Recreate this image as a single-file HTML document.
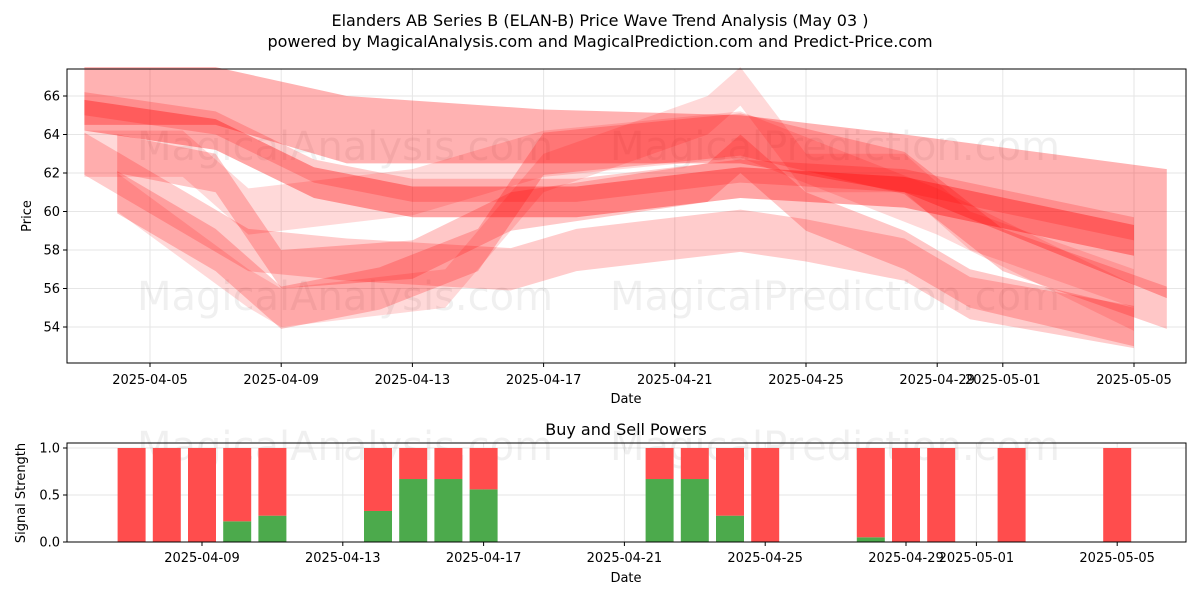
<!DOCTYPE html>
<html><head><meta charset="utf-8"><style>
body{margin:0;background:#fff;font-family:"Liberation Sans","DejaVu Sans",sans-serif}
svg text{font-family:"DejaVu Sans","Liberation Sans",sans-serif}
</style></head><body>
<svg id="chart" width="1200" height="600" xmlns="http://www.w3.org/2000/svg">
<rect width="1200" height="600" fill="#fff"/>
<text x="600" y="26" text-anchor="middle" font-size="16">Elanders AB Series B (ELAN-B) Price Wave Trend Analysis (May 03 )</text>
<text x="600" y="47" text-anchor="middle" font-size="16">powered by MagicalAnalysis.com and MagicalPrediction.com and Predict-Price.com</text>
<g id="gtop"></g><g id="gbot"></g>
</svg>
<script>
const NS="http://www.w3.org/2000/svg";
const yTicks=[54,56,58,60,62,64,66];
const xTickLabels=["2025-04-05","2025-04-09","2025-04-13","2025-04-17","2025-04-21","2025-04-25","2025-04-29","2025-05-01","2025-05-05"];
const bandA_dates=["2025-04-03","2025-04-07","2025-04-11","2025-04-17","2025-04-23","2025-04-28","2025-05-06"];
const bandA_hi=[67.5,67.5,66,65.3,65,64,62.2];
const bandA_lo=[64.5,64.5,62.5,62.5,62.5,61,55.5];
const bandB_dates=["2025-04-03","2025-04-07","2025-04-10","2025-04-13","2025-04-18","2025-04-23","2025-04-28","2025-05-05"];
const bandB_mid=[65,64,61.5,60.5,60.5,61.5,61,58.5];
const bandC_dates=["2025-04-03","2025-04-08","2025-04-11","2025-04-16","2025-04-18","2025-04-23","2025-04-25","2025-04-28","2025-04-30","2025-05-05"];
const bandC_mid=[63,58,57.5,57,58,59,58.5,57.5,55.5,54];
const bandD_dates=["2025-04-04","2025-04-07","2025-04-09","2025-04-12","2025-04-15","2025-04-17","2025-04-23","2025-04-28","2025-05-01","2025-05-06"];
const bandD_mid=[61,58,55,56,58,63,64,62,58,55];
const bandE_dates=["2025-04-04","2025-04-07","2025-04-09","2025-04-13","2025-04-16","2025-04-22","2025-04-23","2025-04-25","2025-04-28","2025-04-30","2025-05-05"];
const bandE_mid=[63,62,57,57.5,60,61.5,63,60,58,56,54];
const bandF_dates=["2025-04-04","2025-04-08","2025-04-09","2025-04-14","2025-04-17","2025-04-22","2025-04-23","2025-04-25","2025-04-28","2025-04-30","2025-05-05"];
const bandF_mid=[61,56,55,56,62,65,66.5,62,62,59,56];
const bandG_dates=["2025-04-03","2025-04-06","2025-04-08","2025-04-13","2025-04-17","2025-04-23","2025-04-29","2025-05-05"];
const bandG_mid=[63,63,60,61,63,64,60,55];
const barDates=["2025-04-07","2025-04-08","2025-04-09","2025-04-10","2025-04-11","2025-04-14","2025-04-15","2025-04-16","2025-04-17","2025-04-22","2025-04-23","2025-04-24","2025-04-25","2025-04-28","2025-04-29","2025-04-30","2025-05-02","2025-05-05"];
const buyPower=[0,0,0,0.22,0.28,0.33,0.67,0.67,0.56,0.67,0.67,0.28,0,0.05,0,0,0,0];
const sellPower=buyPower.map(v=>1-v);
const botTicks=[0,0.5,1.0];

const day=s=>Date.UTC(+s.slice(0,4),+s.slice(5,7)-1,+s.slice(8,10))/864e5;
const d0=day("2025-04-05");
const X=s=>150+(day(s)-d0)*32.8;
const Y=v=>327-(v-54)*19.25;
const d1=day("2025-04-09");
const X2=s=>202+(day(s)-d1)*35.2;
const Y2=v=>542-v*94;
function mk(tag,attrs,parent,txt){const e=document.createElementNS(NS,tag);for(const k in attrs)e.setAttribute(k,attrs[k]);if(txt!=null)e.textContent=txt;parent.appendChild(e);return e;}
const gTop=document.getElementById('gtop'),gBot=document.getElementById('gbot');
yTicks.forEach(v=>{mk('line',{x1:67,x2:1186,y1:Y(v),y2:Y(v),stroke:'#e6e6e6'},gTop);
 const t=mk('text',{x:60,y:Y(v)+4.5,'text-anchor':'end','font-size':13},gTop,v);
 
 
 mk('line',{x1:63,x2:67,y1:Y(v),y2:Y(v),stroke:'#000'},gTop);});
xTickLabels.forEach(s=>{mk('line',{x1:X(s),x2:X(s),y1:69,y2:363,stroke:'#e6e6e6'},gTop);
 mk('line',{x1:X(s),x2:X(s),y1:363,y2:367,stroke:'#000'},gTop);
 const t=mk('text',{x:X(s),y:384,'text-anchor':'middle','font-size':13},gTop,s);
 
 });
[[345,160],[835,160],[345,310],[835,310]].forEach((p,i)=>{const t=mk('text',{x:p[0],y:p[1],'text-anchor':'middle','font-size':40,fill:'#000','fill-opacity':0.06},gTop,i%2?'MagicalPrediction.com':'MagicalAnalysis.com');
 
 });
function band(dates,lo,hi,op,name){
 let pts=dates.map((d,i)=>X(d)+','+Y(hi[i]));
 pts=pts.concat(dates.map((d,i)=>X(d)+','+Y(lo[i])).reverse());
 const p=mk('polygon',{points:pts.join(' '),fill:'#ff0000','fill-opacity':op},gTop);
 
 }
function bandMid(dates,mid,w,op,name){band(dates,mid.map(v=>v-w/2),mid.map(v=>v+w/2),op,name);}
band(bandA_dates,bandA_lo,bandA_hi,0.3,'wave-band-a');
bandMid(bandB_dates,bandB_mid,1.6,0.35,'wave-band-b');
bandMid(bandB_dates,bandB_mid.map(v=>v+0.6),1.2,0.2,'wave-band-b2');
bandMid(bandC_dates,bandC_mid,2.2,0.2,'wave-band-c');
bandMid(bandD_dates,bandD_mid,2.2,0.22,'wave-band-d');
bandMid(bandE_dates,bandE_mid,2.0,0.22,'wave-band-e');
bandMid(bandF_dates,bandF_mid,2.0,0.15,'wave-band-f');
bandMid(bandG_dates,bandG_mid,2.4,0.15,'wave-band-g');
mk('rect',{x:67,y:69,width:1119,height:294,fill:'none',stroke:'#000'},gTop);
let t=mk('text',{x:626,y:403,'text-anchor':'middle','font-size':13},gTop,'Date');


t=mk('text',{x:0,y:0,'text-anchor':'middle','font-size':13,transform:'translate(31,216) rotate(-90)'},gTop,'Price');


botTicks.forEach(v=>{mk('line',{x1:67,x2:1186,y1:Y2(v),y2:Y2(v),stroke:'#e6e6e6'},gBot);
 mk('line',{x1:63,x2:67,y1:Y2(v),y2:Y2(v),stroke:'#000'},gBot);
 const t=mk('text',{x:60,y:Y2(v)+4.5,'text-anchor':'end','font-size':13},gBot,v.toFixed(1));
 
 });
const botX=["2025-04-09","2025-04-13","2025-04-17","2025-04-21","2025-04-25","2025-04-29","2025-05-01","2025-05-05"];
botX.forEach(s=>{mk('line',{x1:X2(s),x2:X2(s),y1:443,y2:542,stroke:'#e6e6e6'},gBot);
 mk('line',{x1:X2(s),x2:X2(s),y1:542,y2:546,stroke:'#000'},gBot);
 const t=mk('text',{x:X2(s),y:562,'text-anchor':'middle','font-size':13},gBot,s);
 
 });
[[345,460],[835,460]].forEach((p,i)=>{const t=mk('text',{x:p[0],y:p[1],'text-anchor':'middle','font-size':40,fill:'#000','fill-opacity':0.06},gBot,i?'MagicalPrediction.com':'MagicalAnalysis.com');
 
 });
barDates.forEach((d,i)=>{const cx=X2(d),w=28;
 const g=mk('rect',{x:cx-w/2,y:Y2(buyPower[i]),width:w,height:Y2(0)-Y2(buyPower[i]),fill:'#4caa4c'},gBot);
 
 
 const r=mk('rect',{x:cx-w/2,y:Y2(buyPower[i]+sellPower[i]),width:w,height:Y2(buyPower[i])-Y2(buyPower[i]+sellPower[i]),fill:'#ff4d4d'},gBot);
 
 });
mk('rect',{x:67,y:443,width:1119,height:99,fill:'none',stroke:'#000'},gBot);
t=mk('text',{x:626,y:435,'text-anchor':'middle','font-size':16},gBot,'Buy and Sell Powers');


t=mk('text',{x:626,y:582,'text-anchor':'middle','font-size':13},gBot,'Date');


t=mk('text',{x:0,y:0,'text-anchor':'middle','font-size':13,transform:'translate(25,493) rotate(-90)'},gBot,'Signal Strength');


</script>
</body></html>
